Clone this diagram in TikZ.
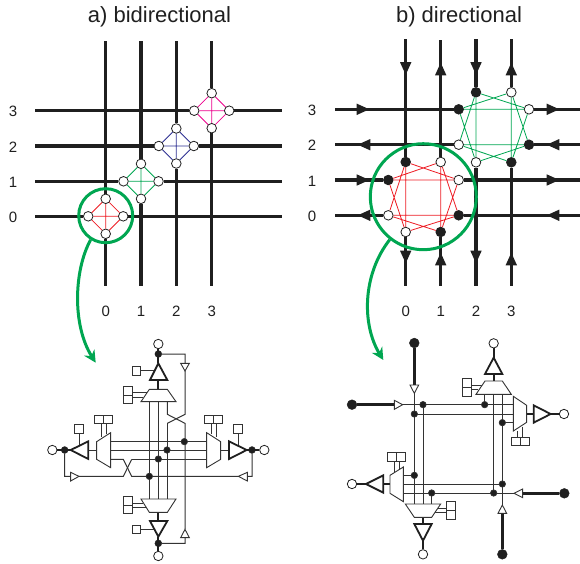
\documentclass[tikz,border=0pt]{standalone}
\usepackage{fontspec}
\setmainfont{Liberation Sans}
\usetikzlibrary{arrows.meta}
\definecolor{ink}{gray}{0.12}
\definecolor{grn}{RGB}{0,166,81}
\definecolor{rd}{RGB}{237,28,36}
\definecolor{blu}{RGB}{46,49,146}
\definecolor{mag}{RGB}{236,0,140}
\definecolor{wire}{gray}{0.2}
\tikzset{
  gridline/.style={draw=ink,line width=3.2pt},
  lens/.style={draw=grn,line width=3pt},
  zoomarrow/.style={draw=grn,line width=3pt,-{Stealth[length=12pt,width=12pt]}},
  opn/.style={circle,draw=ink,fill=white,line width=.8pt,minimum size=9.6pt,inner sep=0pt},
  fil/.style={circle,draw=ink,fill=ink,line width=.8pt,minimum size=9.6pt,inner sep=0pt},
  sopen/.style={circle,draw=ink,fill=white,line width=.8pt,minimum size=9.4pt,inner sep=0pt},
  sfill/.style={circle,draw=ink,fill=ink,minimum size=9.8pt,inner sep=0pt},
  sdot/.style={circle,draw=ink,fill=ink,minimum size=6.8pt,inner sep=0pt,line width=.5pt},
  jct/.style={circle,draw=wire,fill=ink,minimum size=6.4pt,inner sep=0pt,line width=.7pt},
  sq/.style={draw=wire,fill=white,line width=.8pt,minimum size=8.8pt,inner sep=0pt},
  wr/.style={draw=wire,line width=1pt},
  thk/.style={draw=ink,line width=2.4pt},
  box/.style={draw=wire,fill=white,line width=.9pt,line join=miter},
  drv/.style={draw=ink,fill=white,line width=1.8pt,line join=miter},
  hd/.style={font=\fontsize{22}{25}\selectfont,text=ink},
  num/.style={font=\fontsize{15}{18}\selectfont,text=ink},
  chord/.style={line width=.8pt},
}
\newcommand{\aU}[2]{\fill[ink] (#1,#2-6.3) -- (#1+5.7,#2+6.3) -- (#1-5.7,#2+6.3) -- cycle;}
\newcommand{\aD}[2]{\fill[ink] (#1,#2+6.3) -- (#1+5.7,#2-6.3) -- (#1-5.7,#2-6.3) -- cycle;}
\newcommand{\aR}[2]{\fill[ink] (#1+6.3,#2) -- (#1-6.3,#2+5.7) -- (#1-6.3,#2-5.7) -- cycle;}
\newcommand{\aL}[2]{\fill[ink] (#1-6.3,#2) -- (#1+6.3,#2+5.7) -- (#1+6.3,#2-5.7) -- cycle;}
\newcommand{\diamondset}[4]{%
  \node[opn] (#1n) at (#3,#4-17.5) {};
  \node[opn] (#1e) at (#3+17.5,#4) {};
  \node[opn] (#1s) at (#3,#4+17.5) {};
  \node[opn] (#1w) at (#3-17.5,#4) {};
  \draw[#2,chord] (#1n) -- (#1e) (#1e) -- (#1s) (#1s) -- (#1w) (#1w) -- (#1n) (#1n) -- (#1s) (#1e) -- (#1w);
}
\begin{document}
\begin{tikzpicture}[x=1pt,y=-1pt]
\useasboundingbox (0,0) rectangle (580,563);
\node[hd] (ta) at (159.5,17) {a) bidirectional};
\node[hd] (tb) at (459,17) {b) directional};
% left grid
\diamondset{r}{rd}{105.7}{216.3}
\diamondset{g}{grn}{141}{181.3}
\diamondset{b}{blu}{176.3}{146}
\diamondset{m}{mag}{211.7}{110.7}
\draw[gridline] (105.7,41)--(rn) (rs)--(105.7,286);
\draw[gridline] (141,41)--(gn) (gs)--(141,286);
\draw[gridline] (176.3,41)--(bn) (bs)--(176.3,286);
\draw[gridline] (211.7,41)--(mn) (ms)--(211.7,286);
\draw[gridline] (35,110.7)--(mw) (me)--(282,110.7);
\draw[gridline] (35,146)--(bw) (be)--(282,146);
\draw[gridline] (35,181.3)--(gw) (ge)--(282,181.3);
\draw[gridline] (35,216.3)--(rw) (re)--(282,216.3);
\foreach \x/\l in {105.7/0,141/1,176.3/2,211.7/3}\node[num] at (\x,311) {\l};
\foreach \y/\l in {110.7/3,146/2,181.3/1,216.3/0}\node[num] at (13,\y+1) {\l};
\node[circle,lens,minimum size=54pt,inner sep=0pt] (la) at (105.7,215.7) {};
\draw[zoomarrow] (la.238) .. controls (74,270) and (72,325) .. (95.7,362.7);
% right grid
\foreach \n/\s/\x/\y in {0/fil/476/92.3,1/opn/511.3/92.3,2/opn/529/109.3,3/fil/529/144.7,4/fil/511.3/162.3,5/opn/476/162.3,6/opn/458.7/144.7,7/fil/458.7/109.3}
  \node[\s] (G\n) at (\x,\y) {};
\draw[grn,chord] (G0)--(G2) (G2)--(G4) (G4)--(G6) (G6)--(G0) (G1)--(G3) (G3)--(G5) (G5)--(G7) (G7)--(G1) (G0)--(G5) (G1)--(G4) (G7)--(G2) (G6)--(G3);
\foreach \n/\s/\x/\y in {0/fil/405.7/162,1/opn/440.7/162,2/opn/458.7/180,3/fil/458.7/215.3,4/fil/440.7/232,5/opn/405.7/232,6/opn/388.3/215.3,7/fil/388.3/180}
  \node[\s] (R\n) at (\x,\y) {};
\draw[rd,chord] (R0)--(R2) (R2)--(R4) (R4)--(R6) (R6)--(R0) (R1)--(R3) (R3)--(R5) (R5)--(R7) (R7)--(R1) (R0)--(R5) (R1)--(R4) (R7)--(R2) (R6)--(R3);
\draw[gridline] (405.7,39)--(R0) (R5)--(405.7,286);
\draw[gridline] (440.7,40)--(R1) (R4)--(440.7,286);
\draw[gridline] (476,39)--(G0) (G5)--(476,286);
\draw[gridline] (511.3,39)--(G1) (G4)--(511.3,286);
\draw[gridline] (335,109.3)--(G7) (G2)--(580,109.3);
\draw[gridline] (335,144.7)--(G6) (G3)--(580,144.7);
\draw[gridline] (335,180)--(R7) (R2)--(580,180);
\draw[gridline] (335,215.3)--(R6) (R3)--(580,215.3);
\foreach \x/\l in {405.7/0,440.7/1,476/2,511.3/3}\node[num] at (\x,311) {\l};
\foreach \y/\l in {109.3/3,144.7/2,180/1,215.3/0}\node[num] at (312,\y+1) {\l};
\aD{405.7}{68.5}\aD{405.7}{257}\aU{440.7}{69}\aU{440.7}{259}
\aD{476}{68.5}\aD{476}{257}\aU{511.3}{69}\aU{511.3}{259}
\aR{363}{109.3}\aR{553}{109.3}\aL{364}{144.7}\aL{553}{144.7}
\aR{363}{180}\aR{553}{180}\aL{364}{215.3}\aL{553}{215.3}
\node[circle,lens,minimum size=106pt,inner sep=0pt] (lb) at (423.3,196.7) {};
\draw[zoomarrow] (lb.-128) .. controls (362,275) and (362,325) .. (383.3,360);
% ---- schematic a
\begin{scope}[x=.33333pt,y=-.33333pt,shift={(90,960)}]
 \node[sopen] (t0) at (385,72) {};
 \node[sdot] (t1) at (385,102) {};
 \node[sopen] (u0) at (385,708) {};
 \node[sdot] (u1) at (385,670) {};
 \node[sopen] (l0) at (67,390) {};
 \node[sdot] (l1) at (104,390) {};
 \node[sopen] (r0) at (703,390) {};
 \node[sdot] (r1) at (666,390) {};
 \draw[wr] (358,245)--(358,537) (385,245)--(385,537) (412,310)--(412,537);
 \draw[wr] (242,365)--(530,365) (242,390)--(530,390) (305,418)--(530,418);
 \draw[wr] (t1)-|(465,130) (465,153)--(465,283)--(412,310);
 \draw[wr] (412,245)--(412,283)--(465,310)--(465,628) (465,653)|-(u1);
 \draw[wr] (l1)|-(122,469) (147,469)--(280,469)--(305,418);
 \draw[wr] (242,418)--(280,418)--(305,469)--(625,469) (652,469)-|(r1);
 \draw[wr] (175,390)--(200,390) (572,390)--(597,390);
 \draw[thk,line width=2pt] (t0)--(385,130) (385,180)--(385,208) (u0)--(385,650) (385,577)--(385,603)
   (l0)--(122,390) (r0)--(650,390);
 \draw[box] (452,130)--(478,130)--(465,153)--cycle;
 \draw[box] (452,653)--(478,653)--(465,628)--cycle;
 \draw[box] (122,457)--(122,483)--(147,469)--cycle;
 \draw[box] (652,457)--(652,483)--(625,469)--cycle;
 \draw[drv] (385,130)--(412,180)--(360,180)--cycle;
 \draw[drv] (385,650)--(412,603)--(360,603)--cycle;
 \draw[drv] (122,390)--(175,364)--(175,417)--cycle;
 \draw[drv] (650,390)--(597,364)--(597,417)--cycle;
 \node[sq] (a1) at (319,152) {}; \draw[wr] (a1)--(372,152);
 \node[sq] (a2) at (319,628) {}; \draw[wr] (a2)--(372,628);
 \node[sq] (a3) at (147,327) {}; \draw[wr] (a3)--(147,375);
 \node[sq] (a4) at (624,327) {}; \draw[wr] (a4)--(624,375);
 \node[sq] (b1) at (293,212) {}; \node[sq] (b2) at (293,238) {};
 \draw[wr] (306,218)--(350,218) (306,232)--(340,232);
 \node[sq] (b3) at (293,543) {}; \node[sq] (b4) at (293,568) {};
 \draw[wr] (306,550)--(340,550) (306,563)--(350,563);
 \node[sq] (b5) at (207,298) {}; \node[sq] (b6) at (233,298) {};
 \draw[wr] (215,311)--(215,350) (228,311)--(228,342);
 \node[sq] (b7) at (537,298) {}; \node[sq] (b8) at (563,298) {};
 \draw[wr] (545,311)--(545,342) (558,311)--(558,350);
 \draw[box] (358,208)--(412,208)--(438,245)--(333,245)--cycle;
 \draw[box] (333,537)--(438,537)--(412,577)--(358,577)--cycle;
 \draw[box] (242,338)--(242,443)--(200,418)--(200,365)--cycle;
 \draw[box] (530,338)--(530,443)--(572,418)--(572,365)--cycle;
 \node[jct] at (463,365) {}; \node[jct] at (411,390) {}; \node[jct] at (385,417) {}; \node[jct] at (358,469) {};
\end{scope}
% ---- schematic b
\begin{scope}[x=.33333pt,y=-.33333pt,shift={(990,960)}]
 \node[sfill] (p1) at (253,69) {};
 \node[sfill] (p2) at (66,254) {};
 \node[sfill] (p3) at (703,520) {};
 \node[sfill] (p4) at (517,703) {};
 \node[sopen] (q1) at (491,70) {};
 \node[sopen] (q2) at (702,282) {};
 \node[sopen] (q3) at (66,492) {};
 \node[sopen] (q4) at (279,703) {};
 \draw[thk] (p1)--(253,195) (p2)--(193,254) (p3)--(578,520) (p4)--(517,580);
 \draw[thk,line width=2pt] (q1)--(491,113) (491,162)--(491,183) (q2)--(662,282) (590,282)--(611,282)
   (q3)--(108,492) (160,492)--(180,492) (q4)--(279,662) (279,592)--(279,612);
 \draw[wr] (253,220)--(253,552) (279,254)--(279,552) (218,254)--(550,254) (253,282)--(550,282);
 \draw[wr] (220,492)--(517,492) (220,519)--(552,519) (491,223)--(491,519) (517,223)--(517,555);
 \draw[wr] (464,223)--(464,254) (517,308)--(550,308) (220,466)--(253,466) (305,519)--(305,552);
 \draw[box] (240,195)--(266,195)--(253,220)--cycle;
 \draw[box] (193,241)--(193,268)--(218,254)--cycle;
 \draw[box] (578,507)--(578,533)--(552,520)--cycle;
 \draw[box] (504,580)--(530,580)--(517,555)--cycle;
 \draw[drv] (491,113)--(517,162)--(465,162)--cycle;
 \draw[drv] (662,282)--(611,256)--(611,308)--cycle;
 \draw[drv] (108,492)--(160,466)--(160,518)--cycle;
 \draw[drv] (279,662)--(253,612)--(305,612)--cycle;
 \node[sq] (c1) at (411,189) {}; \node[sq] (c2) at (411,215) {};
 \draw[wr] (424,196)--(455,196) (424,209)--(445,209);
 \node[sq] (c3) at (557,364) {}; \node[sq] (c4) at (584,364) {};
 \draw[wr] (563,333)--(563,351) (577,320)--(577,351);
 \node[sq] (c5) at (186,411) {}; \node[sq] (c6) at (213,411) {};
 \draw[wr] (193,424)--(193,455) (207,424)--(207,447);
 \node[sq] (c7) at (363,558) {}; \node[sq] (c8) at (363,585) {};
 \draw[wr] (322,565)--(350,565) (312,578)--(350,578);
 \draw[box] (465,183)--(517,183)--(544,223)--(438,223)--cycle;
 \draw[box] (550,229)--(550,333)--(590,307)--(590,256)--cycle;
 \draw[box] (220,441)--(220,545)--(180,520)--(180,466)--cycle;
 \draw[box] (226,552)--(332,552)--(305,592)--(253,592)--cycle;
 \foreach \x/\y in {279/254,253/282,464/254,517/308,253/466,305/519,491/519,517/492}
   \node[jct] at (\x,\y) {};
\end{scope}
\end{tikzpicture}
\end{document}
